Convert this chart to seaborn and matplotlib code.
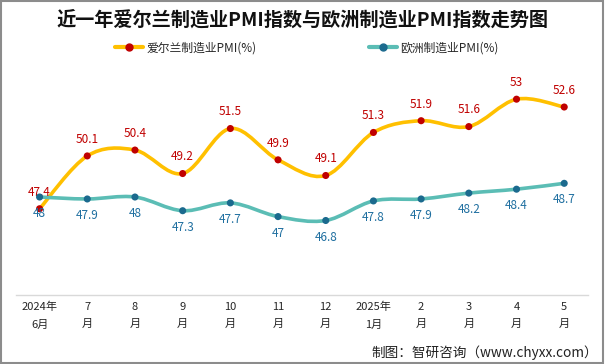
import numpy as np
import matplotlib.pyplot as plt
import seaborn as sns
from matplotlib.path import Path
from matplotlib.patches import PathPatch, Rectangle
from matplotlib.lines import Line2D

# -------------------------------------------------
# Data
# -------------------------------------------------
months = ["2024年\n6月", "7\n月", "8\n月", "9\n月", "10\n月", "11\n月", "12\n月",
          "2025年\n1月", "2\n月", "3\n月", "4\n月", "5\n月"]
ireland_pmi = [47.4, 50.1, 50.4, 49.2, 51.5, 49.9, 49.1, 51.3, 51.9, 51.6, 53, 52.6]
europe_pmi = [48, 47.9, 48, 47.3, 47.7, 47, 46.8, 47.8, 47.9, 48.2, 48.4, 48.7]

sns.set_theme(style="white")
plt.rcParams['font.family'] = ['Noto Sans CJK SC', 'DejaVu Sans']

fig = plt.figure(figsize=(6.05, 3.64), dpi=100)
ax = fig.add_axes([0.026, 0.19, 0.946, 0.645])


def smooth_path(xs, ys, t=1 / 6):
    # cubic bezier through the points (Catmull-Rom style), drawn in data coords
    xs = np.asarray(xs, float)
    ys = np.asarray(ys, float)
    verts = [(xs[0], ys[0])]
    codes = [Path.MOVETO]
    n = len(xs)
    for i in range(n - 1):
        p0 = i - 1 if i > 0 else i
        p3 = i + 2 if i + 2 < n else i + 1
        c1 = (xs[i] + (xs[i + 1] - xs[p0]) * t, ys[i] + (ys[i + 1] - ys[p0]) * t)
        c2 = (xs[i + 1] - (xs[p3] - xs[i]) * t, ys[i + 1] - (ys[p3] - ys[i]) * t)
        verts += [c1, c2, (xs[i + 1], ys[i + 1])]
        codes += [Path.CURVE4] * 3
    return Path(verts, codes)


x = np.arange(len(months))

series = [
    (ireland_pmi, "#FFC000", "#C00000", "#C00000", 1, "爱尔兰制造业PMI(%)"),
    (europe_pmi, "#5BBDB5", "#1B6A8E", "#1F6FA0", -1, "欧洲制造业PMI(%)"),
]

for vals, line_c, mark_c, text_c, side, name in series:
    ax.add_patch(PathPatch(smooth_path(x, vals), facecolor="none",
                           edgecolor=line_c, lw=2.6, zorder=2, capstyle="round"))
    sns.scatterplot(x=x, y=vals, color=mark_c, s=26, edgecolor="none",
                    zorder=3, ax=ax, legend=False)
    for xi, v in zip(x, vals):
        ax.annotate(f"{v:g}", (xi, v), xytext=(0, 12 * side), textcoords="offset points",
                    ha="center", va="center", fontsize=8.5, color=text_c)

ax.set_xlim(-0.5, len(months) - 0.5)
ax.set_ylim(43, 55)
ax.set_yticks([])
ax.set_xticks(x)
ax.set_xticklabels(months, fontsize=8, linespacing=1.9)
ax.tick_params(axis="x", length=0, pad=5)
for s in ["top", "right", "left"]:
    ax.spines[s].set_visible(False)
ax.spines["bottom"].set_color("#d9d9d9")
ax.spines["bottom"].set_linewidth(1)
ax.set_xticks(np.arange(-0.5, len(months), 1), minor=True)
ax.tick_params(axis="x", which="minor", length=4, color="#d9d9d9", width=1)

# legend
handles = [Line2D([], [], color=s[1], lw=3, marker="o", markersize=5,
                  markerfacecolor=s[2], markeredgecolor=s[2]) for s in series]
fig.legend(handles, [s[5] for s in series], loc="center", bbox_to_anchor=(0.507, 0.868),
           ncol=2, frameon=False, fontsize=8.5, columnspacing=9.5, handlelength=2.4,
           handletextpad=0.3)

fig.text(0.5, 0.945, "近一年爱尔兰制造业PMI指数与欧洲制造业PMI指数走势图",
         ha="center", va="center", fontsize=13.8, fontweight="bold", color="#111111")

fig.text(0.988, 0.032, "制图：智研咨询（www.chyxx.com）", ha="right", va="center",
         fontsize=9.8, color="#222222")

fig.patches.append(Rectangle((0.002, 0.003), 0.995, 0.994, transform=fig.transFigure,
                             fill=False, edgecolor="#8c8c8c", lw=1.5))

plt.savefig("out.png", dpi=100)
plt.close()
